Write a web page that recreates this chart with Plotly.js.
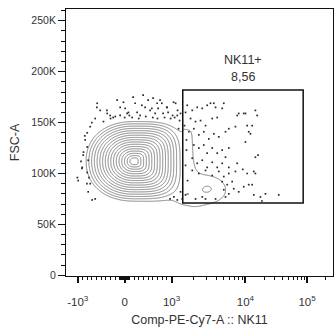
<!DOCTYPE html>
<html><head><meta charset="utf-8">
<script src="https://cdn.plot.ly/plotly-3.0.1.min.js"></script>
<style>html,body{margin:0;padding:0;background:#fff}#chart{width:336px;height:327px}</style>
</head><body><div id="chart"></div>
<script>
// ---- axis ticks ----
const xTickValues = [-1000, 0, 1000, 10000, 100000];
const xTickLabels = ['-10<sup>3</sup>', '0', '10<sup>3</sup>', '10<sup>4</sup>', '10<sup>5</sup>'];
const xMinorValues = [-900,-800,-700,-600,-500,-400,-300,-200,-100,-90,-80,-70,-60,-50,-40,-30,-20,-10,
  10,20,30,40,50,60,70,80,90,100,200,300,400,500,600,700,800,900,
  2000,3000,4000,5000,6000,7000,8000,9000,20000,30000,40000,50000,60000,70000,80000,90000,200000];
const yTickValues = [0, 50000, 100000, 150000, 200000, 250000];
const yTickLabels = ['0', '50K', '100K', '150K', '200K', '250K'];
const yMinorValues = [10000,20000,30000,40000,60000,70000,80000,90000,110000,120000,130000,140000,
  160000,170000,180000,190000,210000,220000,230000,240000,260000];

// ---- cell populations (density components) ----
const popName  = ['main', 'tail', 'NK11+ blob', 'bridge'];
const popX     = [200, 1650, 3116, 1622];            // PE-Cy7 value of centre
const popY     = [112000, 121000, 85000, 79700];     // FSC-A of centre
const popSX    = [1.02, 0.11, 0.32, 0.22];           // spread (display decades)
const popSY    = [39000, 24000, 11000, 3800];        // spread (FSC-A)
const popPL    = [2.2, 4, 2, 2];                     // shape exponent, left side
const popPR    = [3.6, 4, 2, 2];                     // shape exponent, right side
const popPeak  = [0, -16.9, -16.42, -17.0];          // log peak level
const popSlope = [17.5, 0.7, 1.08, 0.6];             // log fall-off
const contourLevels = { start: -17.5, end: -1.5, size: 1 };

// ---- outlier events drawn as dots (PE-Cy7 value, FSC-A) ----
const evX = [-585,-160,11,181,394,500,606,692,755,904,1064,1205,-521,-372,-245,-96,53,160,266,330,
  436,543,649,713,819,926,1032,1323,-628,-734,-798,-841,-798,-883,-777,-904,-798,-990,-734,-777,-692,
  -592,-379,-309,-96,-26,81,223,366,579,792,898,1133,1194,-451,-877,-911,-1010,-804,-628,968,1074,1194,
  1629,1905,2224,2600,3034,3365,3935,4844,7730,10000,15500,1806,2110,2465,2880,3548,4150,1714,2000,2338,
  2730,3192,3733,4355,5370,5950,7320,10650,12050,10000,2000,2338,2730,3034,3548,4150,4844,5370,5950,
  14500,1905,2224,2600,3034,3548,4150,4844,5950,7730,1905,2338,2880,3548,4355,5090,5950,7320,10650,
  13640,4844,5660,6610,5090,5950,6950,8110,9480,11300,5370,13640,17500,21100,1323,1546,1395,2110,2600,
  3935,8110,9480,12850,11300,9200,14500,18500,34700,12850,5090,3733,14500,16000,1546,1590,1546,1646,
  1496,1590,2880,1283,1243,
  -300,-200,0,100,300,450,600,700,850,980,1100,-700,-850,-930,-760];
const evY = [169000,172000,164000,175000,177000,172000,174000,169000,172000,165000,170000,162000,162000,
  159000,155000,157000,159000,155000,160000,157000,165000,162000,159000,164000,159000,160000,157000,
  159000,154000,146000,140000,133000,126000,118000,113000,106000,101000,93000,90000,82000,74000,
  165000,162000,157000,165000,170000,160000,169000,167000,164000,169000,165000,169000,157000,151000,
  121000,105000,96000,90000,75000,75000,77000,74000,
  167000,162000,165000,164000,167000,169000,165000,164000,157000,159000,157000,154000,151000,152000,
  147000,154000,155000,141000,144000,138000,141000,134000,139000,136000,141000,144000,146000,147000,
  139000,131000,128000,125000,128000,120000,125000,120000,123000,116000,125000,116000,115000,110000,
  113000,106000,111000,106000,110000,106000,110000,103000,100000,103000,98000,102000,97000,100000,
  102000,100000,102000,92000,89000,92000,84000,80000,85000,82000,87000,89000,77000,79000,77000,80000,
  82000,79000,75000,75000,77000,75000,159000,159000,147000,141000,104000,100000,73000,79000,89000,
  169000,169000,162000,118000,160000,133000,108000,93000,147000,123000,75000,152000,144000,
  154000,156000,155000,157000,154000,156000,155000,154000,155000,154000,155000,150000,137000,112000,96000];

// ---- gate ----
const gateX = [1417, 86500];
const gateY = [71000, 182000];
const gateName = 'NK11+';
const gatePct = '8,56';

// ---- biexponential-style display transform of the PE-Cy7 axis ----
const K1 = 74 / 47, K2 = 61.7 / 47;
function T(v) {
  const a = Math.abs(v), s = v < 0 ? -1 : 1;
  if (a <= 1000) return v / 1000;
  const d = Math.log10(a);
  const t = d <= 4 ? 1 + (d - 3) * K1 : 1 + K1 + (d - 4) * K2;
  return s * t;
}

// density grid for contours
const gu = [], gy = [];
for (let u = -1.25; u <= 2.45; u += 0.012) gu.push(u);
for (let y = 50000; y <= 178000; y += 600) gy.push(y);
const z = gy.map(y => gu.map(u => {
  let s = 0;
  for (let k = 0; k < popX.length; k++) {
    const du = (u - T(popX[k])) / popSX[k];
    const dy = (y - popY[k]) / popSY[k];
    const p = du < 0 ? popPL[k] : popPR[k];
    const r = Math.pow(Math.pow(Math.abs(du), p) + Math.pow(Math.abs(dy), p), 1 / p);
    s += Math.exp(popPeak[k] - popSlope[k] * r);
  }
  return Math.log(s);
}));

const font = 'Liberation Sans, Arial, sans-serif';
const traces = [
  { type: 'contour', x: gu, y: gy, z: z, showscale: false, hoverinfo: 'skip',
    contours: Object.assign({ coloring: 'none' }, contourLevels),
    line: { color: '#808080', width: 1, smoothing: 0.8 } },
  { type: 'scatter', mode: 'markers', x: evX.map(T), y: evY, hoverinfo: 'skip',
    marker: { symbol: 'square', size: 1.7, color: '#2a2a2a', line: { width: 0 } } }
];

const layout = {
  width: 336, height: 327,
  margin: { l: 66, r: 3, t: 9, b: 51 },
  paper_bgcolor: '#fff', plot_bgcolor: '#fff',
  showlegend: false,
  font: { family: font, color: '#333' },
  xaxis: {
    range: [-1.25, 4.44], showgrid: false, zeroline: false,
    showline: true, linecolor: '#111', linewidth: 1, mirror: true,
    tickmode: 'array', tickvals: xTickValues.map(T), ticktext: xTickLabels,
    ticks: 'outside', ticklen: 6, tickwidth: 2, tickcolor: '#111',
    tickfont: { size: 11.5, color: '#333' }, ticklabelstandoff: 9,
    minor: { tickmode: 'array', tickvals: xMinorValues.map(T), ticks: 'outside', ticklen: 3, tickwidth: 1, tickcolor: '#111', showgrid: false },
    title: { text: 'Comp-PE-Cy7-A :: NK11', font: { size: 12.5, color: '#333' }, standoff: 12 }
  },
  yaxis: {
    range: [-700, 261600], showgrid: false, zeroline: false,
    showline: true, linecolor: '#111', linewidth: 1, mirror: true,
    tickmode: 'array', tickvals: yTickValues, ticktext: yTickLabels,
    ticks: 'outside', ticklen: 7, tickwidth: 1.3, tickcolor: '#111',
    tickfont: { size: 10.5, color: '#333' },
    minor: { tickmode: 'array', tickvals: yMinorValues, ticks: 'outside', ticklen: 4, tickwidth: 1, tickcolor: '#111', showgrid: false },
    title: { text: 'FSC-A', font: { size: 12.5, color: '#333' }, standoff: 8 }
  },
  shapes: [{ type: 'rect', xref: 'x', yref: 'y', x0: T(gateX[0]), x1: T(gateX[1]), y0: gateY[0], y1: gateY[1],
    line: { color: '#111', width: 1.5 }, fillcolor: 'rgba(0,0,0,0)' }],
  annotations: [
    { xref: 'x', yref: 'y', x: (T(gateX[0]) + T(gateX[1])) / 2, y: gateY[1], text: gatePct, showarrow: false,
      yanchor: 'bottom', yshift: 4, font: { size: 12.5, color: '#333' } },
    { xref: 'x', yref: 'y', x: (T(gateX[0]) + T(gateX[1])) / 2, y: gateY[1], text: gateName, showarrow: false,
      yanchor: 'bottom', yshift: 21, font: { size: 12.5, color: '#333' } }
  ]
};

Plotly.newPlot('chart', traces, layout, { staticPlot: true, displayModeBar: false });
</script>
</body></html>
